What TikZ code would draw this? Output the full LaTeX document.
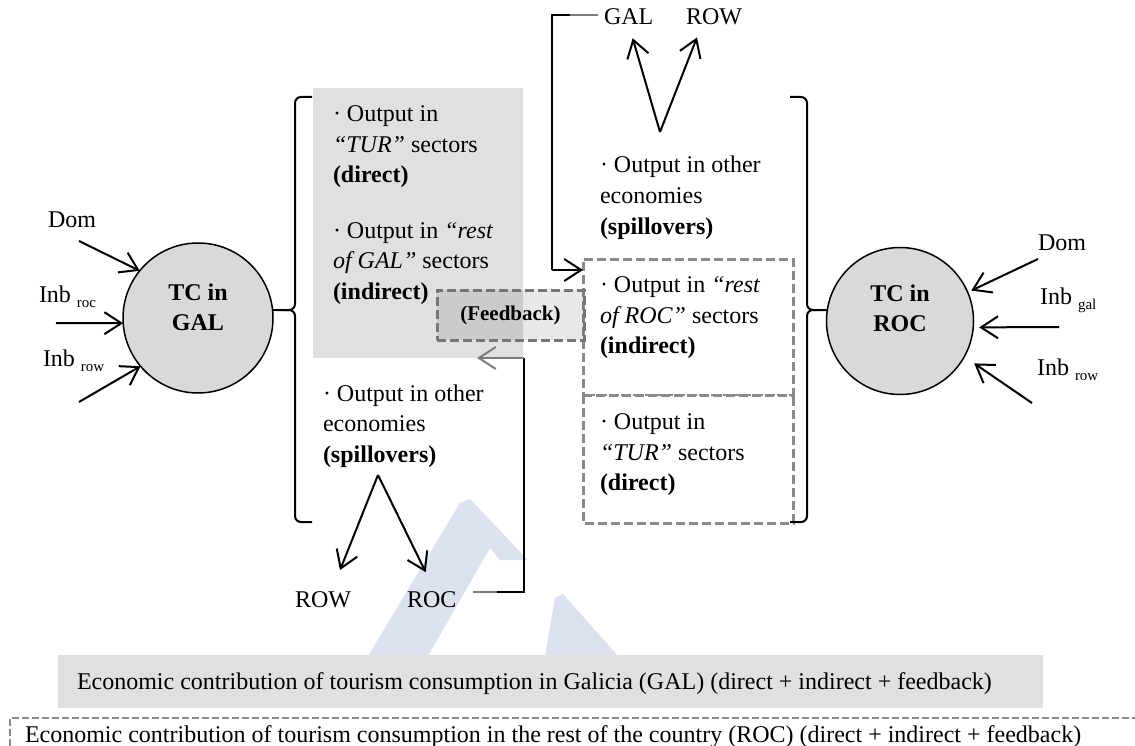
\documentclass[tikz,border=0pt]{standalone}
\usepackage{fontspec}
\setmainfont{Liberation Serif}
\usetikzlibrary{arrows.meta,calc}

\definecolor{circfill}{RGB}{217,217,217}
\definecolor{boxfill}{RGB}{224,224,224}
\definecolor{dashgray}{RGB}{138,138,138}
\definecolor{fbgray}{RGB}{118,118,118}
\definecolor{lgray}{RGB}{125,125,125}
\definecolor{markblue}{RGB}{219,225,239}

% small lowered index after "Inb"
\newcommand{\lowtxt}[1]{{\fontsize{15}{15}\selectfont\raisebox{-5pt}{#1}}}

\begin{document}
\begin{tikzpicture}[x=1pt,y=-1pt,
  every node/.style={inner sep=0pt,outer sep=0pt,font=\fontsize{24}{30.5}\selectfont},
  txt/.style={anchor=base west},
  ln/.style={line width=2pt},
  arr/.style={line width=2pt,-{Straight Barb[length=17pt,width=22pt]}},
  brace/.style={line width=2pt,rounded corners=6pt},
  tc/.style={circle,draw,line width=1.5pt,fill=circfill,minimum size=#1},
  tctext/.style={align=center,font=\fontsize{24}{30}\selectfont\bfseries},
  dline/.style={draw=dashgray,line width=3pt,dash pattern=on 9pt off 4pt},
  dbox/.style={dline,anchor=north west},
]
\useasboundingbox (0,0) rectangle (1135,746);

% faint emblem in the background
\fill[markblue] (460,503) -- (470,499) -- (528,560) -- (500,560) -- (490,548)
  -- (428,656) -- (368,656) -- cycle;
\fill[markblue] (555,598) -- (563,594) -- (618,656) -- (545,656) -- cycle;

% ---------- Galicia side ----------
\node[fill=boxfill,minimum width=210pt,minimum height=270pt,anchor=north west] (galbox) at (313,88) {};

\node[tc=150pt] (galc) at (198,318) {};
\node[tctext] (galtc) at (198,307) {TC in\\GAL};

\node[txt] (domL) at (48,228) {Dom};
\node[txt] (inbrocL) at (39,302) {Inb \lowtxt{roc}};
\node[txt] (inbrowL) at (43,366) {Inb \lowtxt{row}};
\coordinate (domLs) at (79,241);
\coordinate (inbrocLs) at (56,323);
\coordinate (inbrowLs) at (79,402);
\draw[arr] (domLs) -- (galc.141);
\draw[arr] (inbrocLs) -- (galc.184);
\draw[arr] (inbrowLs) -- (galc.220);

% brace of the Galicia effects
\draw[brace] (312,97) -- (295,97) -- (295,310) -- (272,310);
\draw[brace] (283,310) -- (295,310) -- (295,522) -- (312,522);

\node[txt] (g1) at (333,122) {· Output in};
\node[txt] (g2) at (333,152.5) {\textit{“TUR”} sectors};
\node[txt] (g3) at (333,183) {\textbf{(direct)}};
\node[txt] (g4) at (333,238.5) {· Output in \textit{“rest}};
\node[txt] (g5) at (333,269) {\textit{of GAL”} sectors};
\node[txt] (g6) at (333,299.5) {\textbf{(indirect)}};

\node[txt] (s1) at (323,401) {· Output in other};
\node[txt] (s2) at (323,431.5) {economies};
\node[txt] (s3) at (323,462) {\textbf{(spillovers)}};

\node[txt] (rowB) at (295,607) {ROW};
\node[txt] (rocB) at (407,607) {ROC};
\coordinate (vbot) at (378,475);
\draw[arr] (vbot) -- ($(rowB.north)+(17,-21)$);
\draw[arr] (vbot) -- ($(rocB.north)+(-6,-19)$);

% ---------- rest of the country side ----------
\node[dbox,minimum width=210pt,minimum height=136pt] (rocup) at (583,259) {};
\node[anchor=north west,minimum width=210pt,minimum height=128pt] (roclow) at (583,395) {};
\draw[dline] (roclow.north west) -- (roclow.south west) -- (roclow.south east) -- (roclow.north east);
\draw[draw=dashgray,line width=1.5pt,dash pattern=on 4pt off 2pt,shorten <=1.5pt,shorten >=1.5pt]
  (roclow.north west) -- (roclow.north east);

\node[tc=147pt] (rocc) at (900,321) {};
\node[tctext] (roctc) at (900,308) {TC in\\ROC};

\node[txt] (domR) at (1038,251) {Dom};
\node[txt] (inbgalR) at (1040,304) {Inb \lowtxt{gal}};
\node[txt] (inbrowR) at (1037,375) {Inb \lowtxt{row}};
\coordinate (domRs) at (1038,259);
\coordinate (inbgalRs) at (1059,327);
\coordinate (inbrowRs) at (1032,403);
\draw[arr,shorten >=4pt] (domRs) -- (rocc.23);
\draw[arr,shorten >=6pt] (inbgalRs) -- (rocc.-5);
\draw[arr,shorten >=12pt] (inbrowRs) -- (rocc.-29);

% brace of the effects in the rest of the country
\draw[brace] (790,97) -- (807,97) -- (807,310) -- (827,310);
\draw[brace] (817,310) -- (807,310) -- (807,522) -- (790,522);

\node[txt] (r1) at (600,173) {· Output in other};
\node[txt] (r2) at (600,203.5) {economies};
\node[txt] (r3) at (600,234) {\textbf{(spillovers)}};
\node[txt] (r4) at (600,292.5) {· Output in \textit{“rest}};
\node[txt] (r5) at (600,323) {\textit{of ROC”} sectors};
\node[txt] (r6) at (600,353.5) {\textbf{(indirect)}};
\node[txt] (r7) at (600,429) {· Output in};
\node[txt] (r8) at (600,460) {\textit{“TUR”} sectors};
\node[txt] (r9) at (600,490.5) {\textbf{(direct)}};

\node[txt] (galT) at (604,25) {GAL};
\node[txt] (rowT) at (686,25) {ROW};
\coordinate (vtop) at (660,132);
\draw[arr] (vtop) -- ($(galT.south)+(4,13)$);
\draw[arr] (vtop) -- ($(rowT.south)+(-17,12)$);

% spillover from the rest of the country back into Galicia
\coordinate (topA) at (598,15);
\coordinate (topB) at (570,15);
\coordinate (topC) at (552,15);
\coordinate (topD) at (552,270);
\draw[ln,lgray] (topA) -- (topB);
\draw[ln] (topB) -- (topC) -- (topD);
\draw[arr] (topD) -- (topD -| rocup.west);

% spillover from Galicia into the rest of the country, fed back
\coordinate (fbA) at (473,592);
\coordinate (fbB) at (497,592);
\coordinate (fbC) at (524,592);
\coordinate (fbD) at (524,358);
\coordinate (fbE) at (477,358);
\draw[ln,lgray] (fbA) -- (fbB);
\draw[ln] (fbB) -- (fbC) -- (fbD);
\draw[arr,lgray] (fbD) -- (fbE);

\node[draw=fbgray,line width=3pt,dash pattern=on 9pt off 4pt,fill=black,fill opacity=0.09,text opacity=1,
      minimum width=147pt,minimum height=50pt,font=\fontsize{21}{24}\selectfont\bfseries] (fb) at (510.5,315) {(Feedback)};

% ---------- totals ----------
\node[fill=boxfill,minimum width=985pt,minimum height=53pt,anchor=north west] (galsum) at (58,655) {};
\node[txt] (galsumt) at (77,689) {Economic contribution of tourism consumption in Galicia (GAL) (direct + indirect + feedback)};
\draw[draw=dashgray,line width=2.5pt,dash pattern=on 7pt off 3pt] (10,746) -- (10,718) -- (1135,718);
\node[txt] (rocsumt) at (25,742) {Economic contribution of tourism consumption in the rest of the country (ROC) (direct + indirect + feedback)};
\end{tikzpicture}
\end{document}
